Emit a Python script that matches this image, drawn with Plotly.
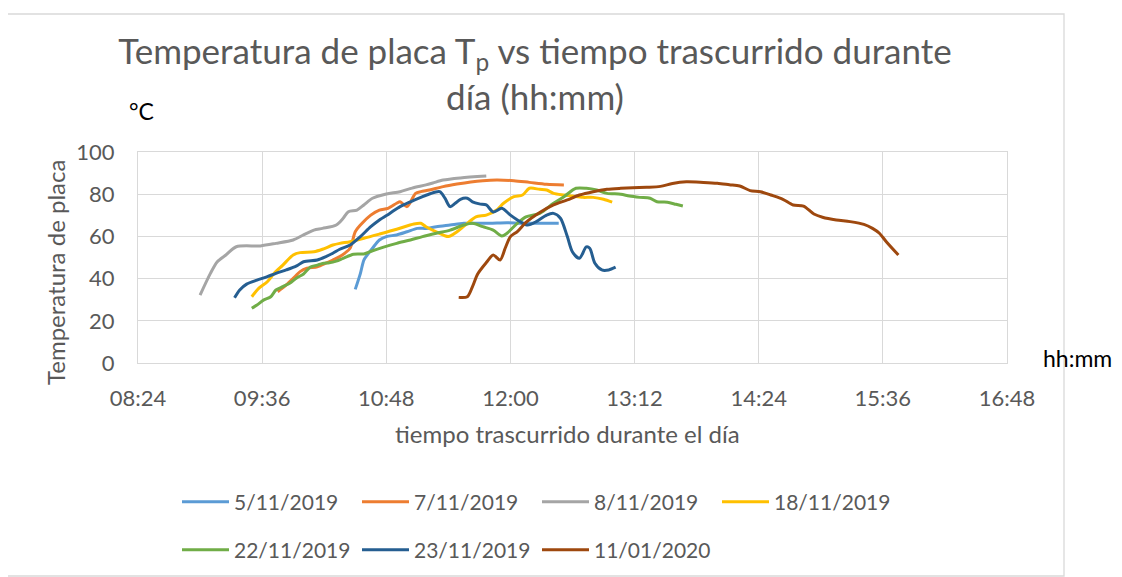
import plotly.graph_objects as go

DAY = "2019-01-01 "
FONT = "Lato"
GRAY_TXT = "#595959"
GRID = "#D9D9D9"

series_names = ["5/11/2019", "7/11/2019", "8/11/2019", "18/11/2019",
                "22/11/2019", "23/11/2019", "11/01/2020"]
series_colors = ["#5B9BD5", "#ED7D31", "#A5A5A5", "#FFC000",
                 "#70AD47", "#255E91", "#9E480E"]

t_0511 = ["10:30", "10:33", "10:35", "10:37", "10:40", "10:44", "10:48", "10:54", "11:00", "11:06",
          "11:11", "11:17", "11:25", "11:33", "11:40", "11:48", "11:58", "12:06", "12:17", "12:28"]
v_0511 = [34.9, 42.5, 48.8, 51.2, 54.4, 58.3, 59.9, 60.7, 62.2, 63.8,
          63.8, 64.6, 65.4, 66.2, 66.2, 66.2, 66.5, 66.2, 66.2, 66.2]

t_0711 = ["09:45", "09:50", "09:54", "09:58", "10:02", "10:08", "10:13", "10:17", "10:21", "10:24",
          "10:27", "10:30", "10:33", "10:39", "10:44", "10:49", "10:54", "10:56", "11:00", "11:05",
          "11:08", "11:13", "11:21", "11:29", "11:37", "11:44", "11:52", "12:02", "12:11", "12:21", "12:31"]
v_0711 = [33.8, 37.0, 40.1, 43.3, 44.9, 45.6, 47.3, 48.8, 50.4, 52.1,
          54.4, 62.2, 65.4, 70.1, 72.5, 73.3, 75.7, 76.4, 74.1, 80.4,
          81.2, 82.0, 83.6, 84.8, 85.8, 86.4, 86.7, 86.4, 85.6, 84.7, 84.4]

t_0811 = ["09:00", "09:06", "09:10", "09:15", "09:21", "09:35", "09:44", "09:54", "10:00", "10:06",
          "10:11", "10:19", "10:23", "10:26", "10:31", "10:35", "10:40", "10:48", "10:56", "11:03",
          "11:11", "11:15", "11:21", "11:31", "11:46"]
v_0811 = [32.2, 42.5, 48.0, 51.2, 55.1, 55.5, 56.7, 58.3, 60.7, 63.0,
          63.8, 65.4, 68.6, 71.7, 72.5, 74.9, 78.1, 80.1, 81.2, 82.9,
          84.4, 85.3, 86.7, 87.7, 88.6]

t_1811 = ["09:30", "09:34", "09:39", "09:43", "09:48", "09:54", "09:58", "10:06", "10:11", "10:17",
          "10:21", "10:27", "10:35", "10:44", "10:54", "11:04", "11:08", "11:11", "11:17", "11:24",
          "11:29", "11:35", "11:40", "11:46", "11:52", "11:56", "12:02", "12:07", "12:11", "12:17",
          "12:21", "12:25", "12:31", "12:36", "12:42", "12:48", "12:54", "12:59"]
v_1811 = [31.4, 35.4, 38.5, 42.5, 46.4, 51.2, 52.3, 52.7, 53.9, 55.9,
          56.7, 57.5, 59.1, 61.1, 63.4, 65.9, 66.2, 64.6, 62.2, 59.9,
          62.2, 66.2, 69.3, 70.1, 72.5, 75.7, 78.8, 79.6, 82.8, 82.3,
          82.0, 80.4, 79.6, 79.1, 78.5, 78.5, 77.6, 76.2]

t_2211 = ["09:30", "09:33", "09:37", "09:41", "09:44", "09:48", "09:52", "09:56", "10:00", "10:04",
          "10:08", "10:11", "10:15", "10:19", "10:23", "10:29", "10:35", "10:40", "10:46", "10:54",
          "11:02", "11:09", "11:17", "11:25", "11:33", "11:38", "11:44", "11:50", "11:55", "11:58",
          "12:04", "12:09", "12:17", "12:25", "12:31", "12:38", "12:44", "12:50", "12:56", "13:04",
          "13:09", "13:15", "13:21", "13:25", "13:31", "13:36", "13:40"]
v_2211 = [25.9, 27.5, 29.9, 31.4, 34.6, 36.2, 37.8, 40.3, 42.2, 45.5,
          46.4, 47.2, 47.5, 48.3, 49.6, 51.5, 51.7, 53.2, 54.8, 56.7,
          58.3, 59.9, 61.5, 63.0, 65.4, 66.2, 64.6, 63.0, 60.2, 61.5,
          66.2, 69.3, 70.9, 75.7, 78.8, 82.8, 82.8, 82.0, 80.4, 80.0,
          79.1, 78.5, 78.1, 76.4, 76.2, 75.2, 74.4]

t_2311 = ["09:20", "09:23", "09:27", "09:33", "09:39", "09:44", "09:50", "09:56", "10:00", "10:08",
          "10:13", "10:17", "10:21", "10:27", "10:33", "10:39", "10:44", "10:50", "10:56", "11:02",
          "11:08", "11:13", "11:19", "11:22", "11:25", "11:28", "11:31", "11:35", "11:38", "11:42",
          "11:46", "11:50", "11:55", "12:00", "12:06", "12:10", "12:15", "12:21", "12:25", "12:29",
          "12:33", "12:36", "12:40", "12:44", "12:46", "12:49", "12:53", "12:57", "13:01"]
v_2311 = [30.9, 34.6, 37.4, 39.3, 40.9, 42.5, 44.1, 46.0, 48.0, 48.8,
          50.4, 52.0, 53.9, 55.9, 59.9, 64.6, 67.8, 70.9, 74.1, 76.4,
          78.5, 80.1, 81.2, 78.1, 74.1, 75.7, 77.6, 78.1, 76.4, 75.4,
          74.9, 71.6, 73.3, 70.1, 66.8, 65.4, 67.0, 70.1, 70.9, 68.6,
          59.9, 52.6, 49.6, 55.0, 54.4, 47.3, 44.1, 44.1, 45.4]

t_1101 = ["11:30", "11:35", "11:38", "11:41", "11:46", "11:50", "11:54", "11:57", "12:00", "12:04",
          "12:09", "12:17", "12:25", "12:33", "12:40", "12:48", "12:56", "13:04", "13:11", "13:19",
          "13:27", "13:34", "13:42", "13:52", "14:00", "14:07", "14:13", "14:19", "14:25", "14:31",
          "14:38", "14:44", "14:50", "14:56", "15:01", "15:09", "15:17", "15:25", "15:30", "15:34",
          "15:38", "15:45"]
v_1101 = [31.1, 31.4, 36.2, 42.2, 47.6, 51.2, 48.8, 54.5, 59.9, 62.3,
          66.6, 71.3, 74.9, 77.3, 79.6, 81.2, 82.3, 82.8, 83.1, 83.3,
          83.7, 85.1, 85.9, 85.6, 85.2, 84.5, 83.9, 81.7, 81.2, 79.6,
          77.6, 74.9, 74.4, 70.6, 69.1, 67.8, 67.0, 65.7, 63.8, 61.5,
          57.5, 51.2]

x_ticks_start = "08:24"
x_range_end = "16:48"
tick_step_minutes = 72

all_t = [t_0511, t_0711, t_0811, t_1811, t_2211, t_2311, t_1101]
all_v = [v_0511, v_0711, v_0811, v_1811, v_2211, v_2311, v_1101]

# page body has an 8px margin: figure sized so it fits the window exactly
OFF = 8
W, H = 1122 - 2 * OFF, 577 - OFF
# plot area in window pixels
P_L, P_T, P_R, P_B = 138, 152, 1007, 363
ML, MT = P_L - OFF, P_T - OFF
MR, MB = W - (P_R - OFF), H - (P_B - OFF)
PW, PH = P_R - P_L, P_B - P_T


def px(xp):
    return (xp - P_L) / PW


def py(yp):
    return (P_B - yp) / PH


fig = go.Figure()
for i, (name, col, ts, vs) in enumerate(zip(series_names, series_colors, all_t, all_v)):
    fig.add_trace(go.Scatter(
        x=[DAY + t for t in ts], y=vs, name=name, mode="lines",
        line=dict(color=col, width=3, shape="spline", smoothing=0.8),
        legend="legend" if i < 4 else "legend2",
    ))

leg_common = dict(
    orientation="h", xanchor="left", yanchor="middle",
    entrywidth=118, entrywidthmode="pixels", itemwidth=47,
    font=dict(family=FONT, size=21, color=GRAY_TXT),
    bgcolor="rgba(0,0,0,0)", tracegroupgap=0,
)

fig.update_layout(
    width=W, height=H,
    margin=dict(l=ML, r=MR, t=MT, b=MB, autoexpand=False),
    paper_bgcolor="white", plot_bgcolor="white",
    font=dict(family=FONT, color=GRAY_TXT, size=21),
    title=dict(
        text="Temperatura de placa T<sub>p</sub> vs tiempo trascurrido durante<br>día (hh:mm)",
        x=(535 - OFF) / W, xanchor="center", xref="container",
        y=1 - 56 / H, yanchor="middle", yref="container",
        font=dict(family=FONT, size=35, color=GRAY_TXT),
    ),
    xaxis=dict(
        type="date",
        range=[DAY + x_ticks_start, DAY + x_range_end],
        tick0=DAY + x_ticks_start, dtick=tick_step_minutes * 60000,
        tickformat="%H:%M",
        showgrid=True, gridcolor=GRID, gridwidth=1.3,
        showline=True, linecolor=GRID, linewidth=1.3, mirror=True,
        ticks="", ticklabelstandoff=15,
        tickfont=dict(size=22, color=GRAY_TXT),
        zeroline=False,
    ),
    yaxis=dict(
        range=[0, 100], dtick=20, tick0=0,
        showgrid=True, gridcolor=GRID, gridwidth=1.3,
        showline=True, linecolor=GRID, linewidth=1.3, mirror=True,
        ticks="", ticklabelstandoff=18,
        tickfont=dict(size=22, color=GRAY_TXT),
        zeroline=False,
    ),
    legend=dict(leg_common, x=px(177), y=py(502)),
    legend2=dict(leg_common, x=px(177), y=py(550)),
    showlegend=True,
)

ann = dict(xref="paper", yref="paper", showarrow=False, xanchor="center", yanchor="middle")
fig.add_annotation(ann, text="°C", x=px(141), y=py(111),
                   font=dict(family=FONT, size=23, color="black"))
fig.add_annotation(ann, text="hh:mm", x=px(1077), y=py(358),
                   font=dict(family=FONT, size=23, color="black"))
fig.add_annotation(ann, text="Temperatura de placa", x=px(55), y=py(273), textangle=-90,
                   font=dict(family=FONT, size=24, color=GRAY_TXT))
fig.add_annotation(ann, text="tiempo trascurrido durante el día", x=px(567), y=py(433),
                   font=dict(family=FONT, size=24, color=GRAY_TXT))

# chart-area border
fig.add_shape(type="rect", xref="paper", yref="paper",
              x0=px(6), x1=px(1064), y0=py(576), y1=py(14),
              line=dict(color=GRID, width=1.3), fillcolor="rgba(0,0,0,0)", layer="below")

fig.write_html("out.html")
